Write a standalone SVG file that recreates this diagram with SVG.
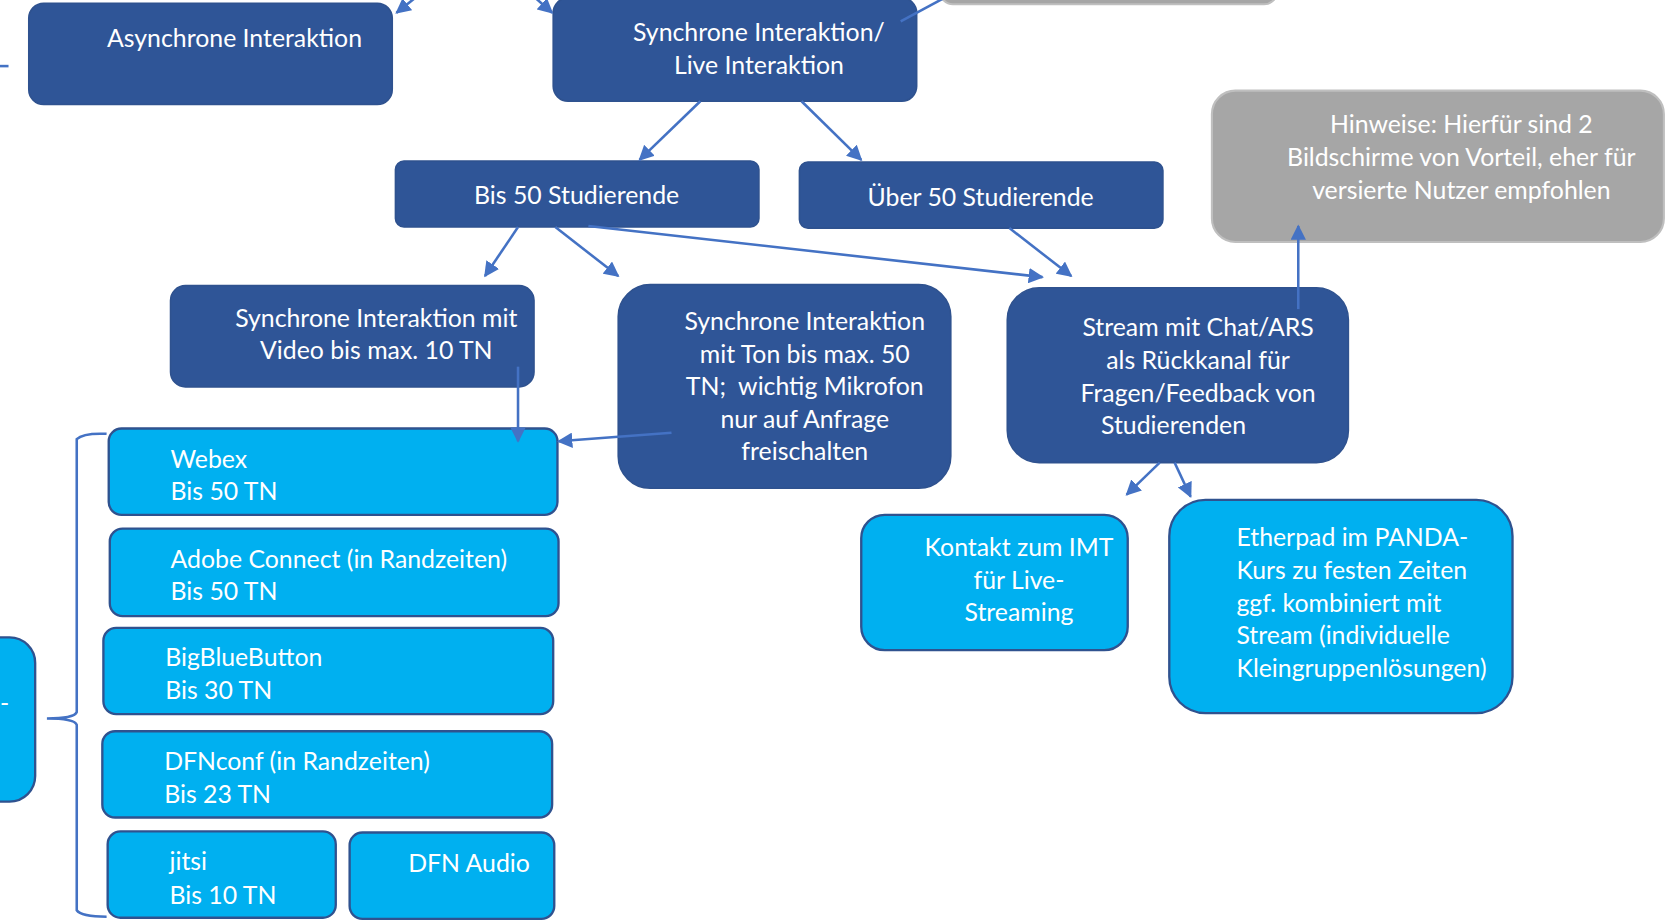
<svg xmlns="http://www.w3.org/2000/svg" width="1666" height="921" viewBox="0 0 1666 921">
<defs>
<style>
.dk{fill:#2F5597;stroke:#2F528F;stroke-width:1.5}
.lt{fill:#00B0F0;stroke:#2F528F;stroke-width:2.2}
.gy{fill:#A6A6A6;stroke:#BFBFBF;stroke-width:2}
text{font-family:Lato,"Liberation Sans",sans-serif;font-size:23.3px;fill:#FFFFFF}
.c{text-anchor:middle}
.cn line,.cn path{stroke:#4472C4;stroke-width:2.4;fill:none}
</style>
<marker id="ah" viewBox="0 0 10 10" refX="9" refY="5" markerWidth="6" markerHeight="6" markerUnits="strokeWidth" orient="auto">
<path d="M0,0 L10,5 L0,10 z" fill="#4472C4"/>
</marker>
</defs>
<rect width="1666" height="921" fill="#FFFFFF"/>
<g transform="scale(1.0659)">
<g id="top-gray"><rect class="gy" x="882" y="-40" width="316" height="44" rx="12"/></g>
<g id="left-partial"><rect class="lt" x="-40" y="598" width="73" height="154" rx="24"/><text x="0" y="668">-</text></g>
<g id="asynchron"><rect class="dk" x="27" y="3" width="341" height="95" rx="14"/><text class="c" x="220" y="44">Asynchrone Interaktion</text></g>
<g id="synchron"><rect class="dk" x="519" y="-2" width="341" height="97" rx="14"/><text class="c" x="712" y="38">Synchrone Interaktion/</text><text class="c" x="712" y="69">Live Interaktion</text></g>
<g id="bis50"><rect class="dk" x="371" y="151" width="341" height="62" rx="8"/><text class="c" x="541" y="191">Bis 50 Studierende</text></g>
<g id="ueber50"><rect class="dk" x="750" y="152" width="341" height="62" rx="8"/><text class="c" x="920" y="193">Über 50 Studierende</text></g>
<g id="hinweise"><rect class="gy" x="1137" y="85" width="424" height="142" rx="22"/><text class="c" x="1371" y="125">Hinweise: Hierfür sind 2</text><text class="c" x="1371" y="156">Bildschirme von Vorteil, eher für</text><text class="c" x="1371" y="187">versierte Nutzer empfohlen</text></g>
<g id="video"><rect class="dk" x="160" y="268" width="341" height="95" rx="14"/><text class="c" x="353" y="307">Synchrone Interaktion mit</text><text class="c" x="353" y="337">Video bis max. 10 TN</text></g>
<g id="ton"><rect class="dk" x="580" y="267" width="312" height="191" rx="30"/><text class="c" x="755" y="310">Synchrone Interaktion</text><text class="c" x="755" y="341">mit Ton bis max. 50</text><text class="c" x="755" y="371" xml:space="preserve">TN;  wichtig Mikrofon</text><text class="c" x="755" y="402">nur auf Anfrage</text><text class="c" x="755" y="432">freischalten</text></g>
<g id="stream"><rect class="dk" x="945" y="270" width="320" height="164" rx="30"/><text class="c" x="1124" y="315">Stream mit Chat/ARS</text><text class="c" x="1124" y="346">als Rückkanal für</text><text class="c" x="1124" y="377">Fragen/Feedback von</text><text class="c" x="1101" y="407">Studierenden</text></g>
<g id="kontakt"><rect class="lt" x="808" y="483" width="250" height="127" rx="22"/><text class="c" x="956" y="522">Kontakt zum IMT</text><text class="c" x="956" y="553">für Live-</text><text class="c" x="956" y="583">Streaming</text></g>
<g id="etherpad"><rect class="lt" x="1097" y="469" width="322" height="200" rx="34"/><text x="1160" y="512">Etherpad im PANDA-</text><text x="1160" y="543">Kurs zu festen Zeiten</text><text x="1160" y="574">ggf. kombiniert mit</text><text x="1160" y="604">Stream (individuelle</text><text x="1160" y="635">Kleingruppenlösungen)</text></g>
<g id="webex"><rect class="lt" x="102" y="402" width="421" height="81" rx="12"/><text x="160" y="439">Webex</text><text x="160" y="469">Bis 50 TN</text></g>
<g id="adobe"><rect class="lt" x="103" y="496" width="421" height="82" rx="12"/><text x="160" y="533">Adobe Connect (in Randzeiten)</text><text x="160" y="563">Bis 50 TN</text></g>
<g id="bbb"><rect class="lt" x="97" y="589" width="422" height="81" rx="12"/><text x="155" y="625">BigBlueButton</text><text x="155" y="656">Bis 30 TN</text></g>
<g id="dfnconf"><rect class="lt" x="96" y="686" width="422" height="81" rx="12"/><text x="154" y="722">DFNconf (in Randzeiten)</text><text x="154" y="753">Bis 23 TN</text></g>
<g id="jitsi"><rect class="lt" x="101" y="780" width="214" height="81" rx="12"/><text x="159" y="816">jitsi</text><text x="159" y="848">Bis 10 TN</text></g>
<g id="dfnaudio"><rect class="lt" x="328" y="781" width="192" height="81" rx="12"/><text class="c" x="440" y="818">DFN Audio</text></g>
<g id="connectors" class="cn">
<path d="M100,407 Q78,406 72,412 L72,668 Q70,674 44,674 Q70,674 72,680 L72,854 Q76,860 100,860"/>
<line x1="0" y1="62" x2="8" y2="62"/>
<line x1="392" y1="-4" x2="372" y2="12" marker-end="url(#ah)"/>
<line x1="500" y1="-4" x2="518" y2="12" marker-end="url(#ah)"/>
<line x1="845" y1="20" x2="886" y2="-2"/>
<line x1="657" y1="95" x2="600" y2="150" marker-end="url(#ah)"/>
<line x1="752" y1="95" x2="808" y2="150" marker-end="url(#ah)"/>
<line x1="486" y1="213" x2="455" y2="259" marker-end="url(#ah)"/>
<line x1="521" y1="213" x2="580" y2="259" marker-end="url(#ah)"/>
<line x1="552" y1="212" x2="978" y2="260" marker-end="url(#ah)"/>
<line x1="947" y1="214" x2="1005" y2="259" marker-end="url(#ah)"/>
<line x1="1218" y1="290" x2="1218" y2="212" marker-end="url(#ah)"/>
<line x1="486" y1="344" x2="486" y2="414" marker-end="url(#ah)"/>
<line x1="630" y1="406" x2="524" y2="414" marker-end="url(#ah)"/>
<line x1="1088" y1="434" x2="1057" y2="464" marker-end="url(#ah)"/>
<line x1="1102" y1="434" x2="1117" y2="466" marker-end="url(#ah)"/>
</g>
</g>
</svg>
